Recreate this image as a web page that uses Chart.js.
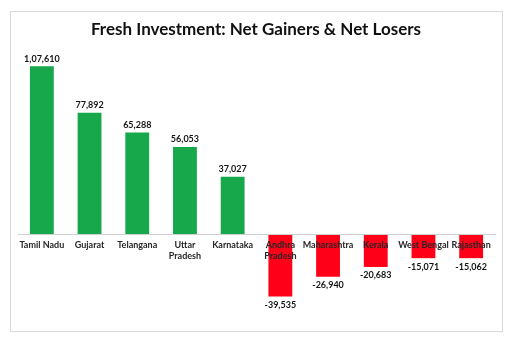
<!DOCTYPE html>
<html>
<head>
<meta charset="utf-8">
<script src="https://cdn.jsdelivr.net/npm/chart.js@4"></script>
<style>
  html, body { margin: 0; padding: 0; background: #fff; }
  #wrap { width: 511px; height: 340px; }
</style>
</head>
<body>
<div id="wrap"><canvas id="myChart"></canvas></div>
<script>
const states = [
  'Tamil Nadu', 'Gujarat', 'Telangana', ['Uttar', 'Pradesh'], 'Karnataka',
  ['Andhra', 'Pradesh'], 'Maharashtra', 'Kerala', 'West Bengal', 'Rajasthan'
];
const netInvestment = [107610, 77892, 65288, 56053, 37027, -39535, -26940, -20683, -15071, -15062];
const chartTitle = 'Fresh Investment: Net Gainers & Net Losers';

const gainColor = '#16A84B';
const lossColor = '#FF0019';

// indian digit grouping: 1,07,610
function fmtIN(v) {
  const neg = v < 0;
  let s = String(Math.abs(Math.round(v)));
  if (s.length > 3) {
    let last = s.slice(-3);
    let rest = s.slice(0, -3);
    rest = rest.replace(/\B(?=(\d{2})+(?!\d))/g, ',');
    s = rest + ',' + last;
  }
  return (neg ? '-' : '') + s;
}

const frameAndTitle = {
  id: 'frameAndTitle',
  beforeDraw(chart) {
    const c = chart.ctx;
    c.save();
    c.fillStyle = '#fff';
    c.fillRect(0, 0, chart.width, chart.height);
    c.strokeStyle = '#d9d9d9';
    c.lineWidth = 1;
    c.strokeRect(10.5, 11.5, 492, 320);
    c.fillStyle = '#111';
    c.font = 'bold 17px Lato';
    c.textAlign = 'center';
    c.textBaseline = 'middle';
    c.fillText(chartTitle, 256, 30);
    c.restore();
  }
};

const valueLabels = {
  id: 'valueLabels',
  afterDatasetsDraw(chart) {
    const c = chart.ctx;
    const meta = chart.getDatasetMeta(0);
    c.save();
    c.font = 'bold 9px Lato';
    c.fillStyle = '#141414';
    c.textAlign = 'center';
    meta.data.forEach((bar, i) => {
      const v = netInvestment[i];
      if (v >= 0) {
        c.textBaseline = 'bottom';
        c.fillText(fmtIN(v), bar.x, bar.y - 3);
      } else {
        c.textBaseline = 'top';
        c.fillText(fmtIN(v), bar.x, bar.y + 4);
      }
    });
    c.restore();
  }
};

const ctx = document.getElementById('myChart').getContext('2d');
new Chart(ctx, {
  type: 'bar',
  data: {
    labels: states,
    datasets: [{
      data: netInvestment,
      backgroundColor: netInvestment.map(v => v >= 0 ? gainColor : lossColor),
      borderWidth: 0,
      barPercentage: 0.5,
      categoryPercentage: 1
    }]
  },
  options: {
    responsive: true,
    maintainAspectRatio: false,
    animation: false,
    layout: { padding: { left: 18, right: 16, top: 47, bottom: 10 } },
    plugins: {
      legend: { display: false },
      title: { display: false },
      tooltip: { enabled: false }
    },
    scales: {
      x: {
        position: { y: 0 },
        grid: { display: false, drawTicks: false },
        border: { display: true, color: '#cfcfcf', z: 1 },
        ticks: {
          z: 1, // state names sit on top of the red bars
          color: '#262626',
          font: { family: 'Lato', size: 9, weight: 'bold' },
          padding: 5,
          maxRotation: 0,
          autoSkip: false
        }
      },
      y: {
        display: false,
        min: -61000,
        max: 120000
      }
    }
  },
  plugins: [frameAndTitle, valueLabels]
});
</script>
</body>
</html>
